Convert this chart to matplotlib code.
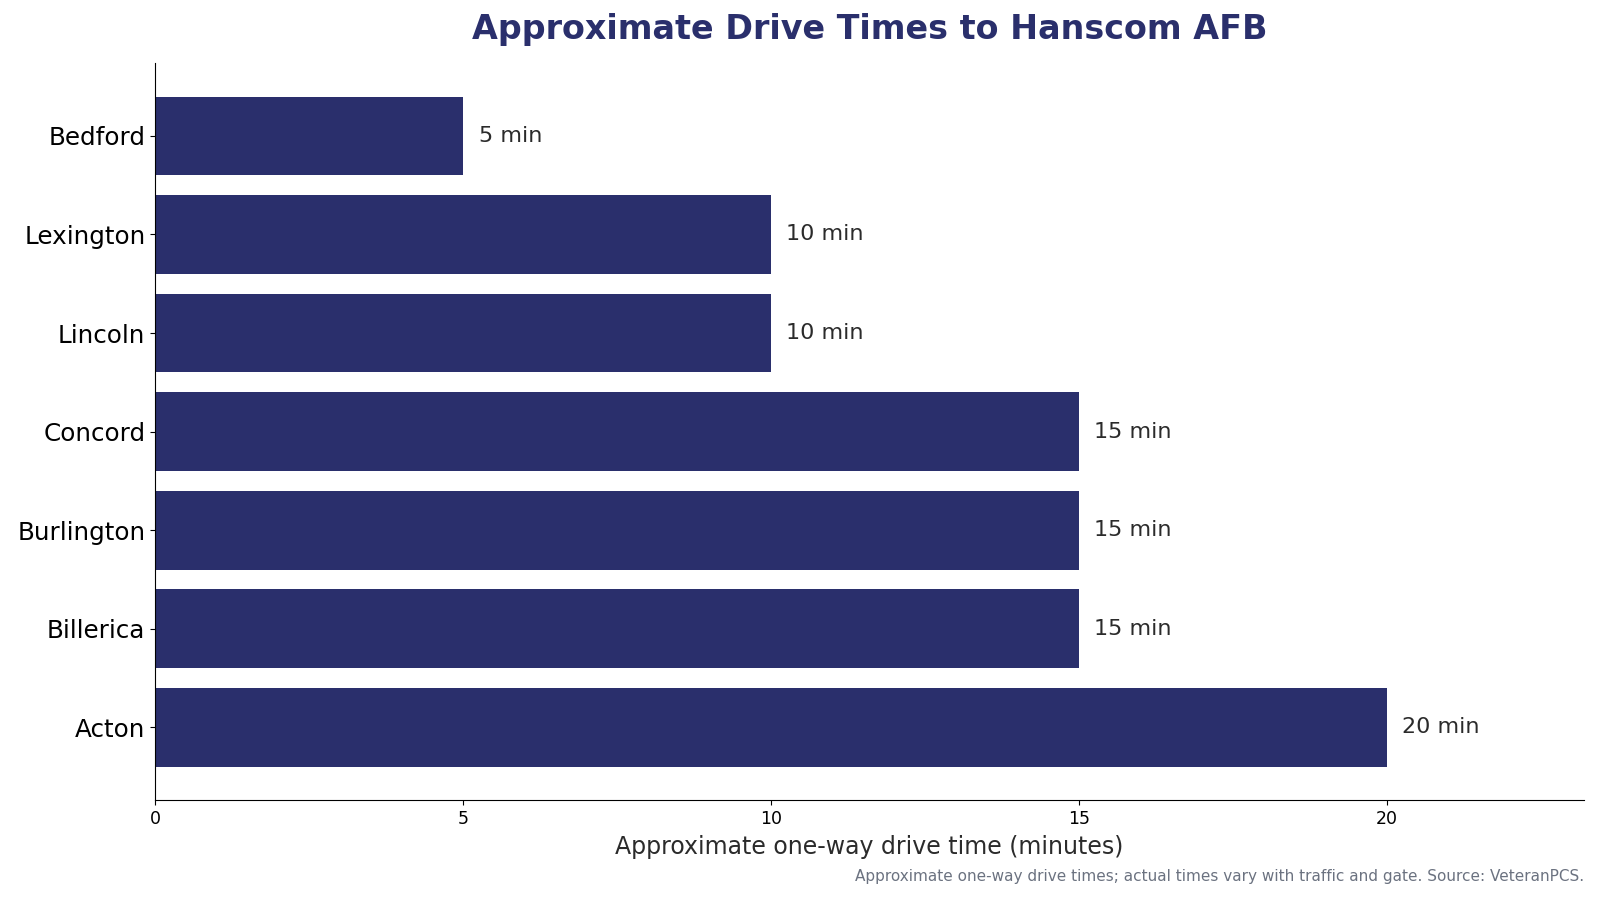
import matplotlib
matplotlib.use("Agg")
import matplotlib.pyplot as plt

towns = ["Bedford", "Lexington", "Lincoln", "Concord", "Burlington", "Billerica", "Acton"]
minutes = [5, 10, 10, 15, 15, 15, 20]
value_labels = [f"{m} min" for m in minutes]

navy = "#2a2f6c"

fig = plt.figure(figsize=(16, 9), dpi=100)
ax = fig.add_axes([0.097, 0.111, 0.893, 0.819])

ax.barh(towns, minutes, height=0.8, color=navy)
ax.invert_yaxis()
ax.set_xlim(0, max(minutes) * 1.16)

for i, (m, lab) in enumerate(zip(minutes, value_labels)):
    ax.text(m + 0.25, i, lab, ha="left", va="center", fontsize=16, color="#2b2b2b")

ax.spines["top"].set_visible(False)
ax.spines["right"].set_visible(False)
ax.tick_params(axis="y", labelsize=17.7)
ax.tick_params(axis="x", labelsize=12.5)
ax.set_xlabel("Approximate one-way drive time (minutes)", fontsize=17, color="#2b2b2b", labelpad=5)

ax.set_title("Approximate Drive Times to Hanscom AFB", fontsize=24, fontweight="bold",
             color=navy, pad=17)

fig.text(0.99, 0.026, "Approximate one-way drive times; actual times vary with traffic and gate. Source: VeteranPCS.",
         ha="right", va="center", fontsize=11, color="#6b7280")

fig.savefig("out.png", dpi=100)
